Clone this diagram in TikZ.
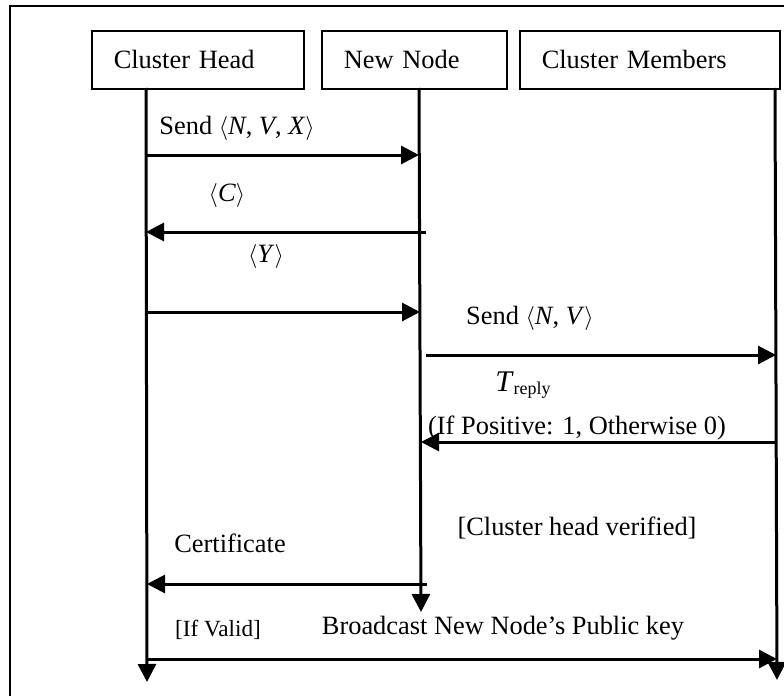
\documentclass[tikz,border=0pt]{standalone}
\usepackage{fontspec}
\setmainfont{Liberation Serif}
\usetikzlibrary{arrows.meta}

\tikzset{
  actor/.style={draw, line width=0.8pt, minimum height=29pt, text width=#1,
    inner xsep=11pt, align=left, anchor=north west,
    font=\fontsize{13.2}{15}\selectfont},
  life/.style={line width=1.5pt, -{Triangle[length=9pt,width=9pt]}},
  msg/.style={line width=1.5pt, -{Triangle[length=9pt,width=9pt]}},
  lbl/.style={inner sep=0pt, font=\fontsize{13.2}{15}\selectfont},
  small/.style={inner sep=0pt, font=\fontsize{11.6}{13}\selectfont}
}

\begin{document}
\begin{tikzpicture}[x=0.5pt, y=-0.5pt]
        \useasboundingbox (0,0) rectangle (784,696);
        % frame (cut off at the right and bottom)
        \draw[line width=1pt] (9.5,696) -- (9.5,6) -- (784,6);

        % actors
        \node[actor=84pt] (ch) at (91,30) {Cluster Head};
        \node[actor=70.5pt] (nn) at (321,30) {New Node};
        \node[actor=108pt] (cm) at (519,30) {Cluster Members};

        % lifelines
        \coordinate (chTop) at (146,88);
        \coordinate (chEnd) at (147,682);
        \coordinate (nnTop) at (419,88);
        \coordinate (nnEnd) at (421,612);
        \coordinate (cmTop) at (775,88);
        \coordinate (cmEnd) at (777,680);
        \draw[life] (chTop) -- (chEnd);
        \draw[life] (nnTop) -- (nnEnd);
        \draw[life] (cmTop) -- (cmEnd);

        % message ends
        \coordinate (ch1) at (146,155);
        \coordinate (nn1) at (419,155);
        \coordinate (nn2) at (426,232);
        \coordinate (ch2) at (146,232);
        \coordinate (ch3) at (146,312);
        \coordinate (nn3) at (420,312);
        \coordinate (nn4) at (426,355);
        \coordinate (cm4) at (776,355);
        \coordinate (cm5) at (776,442);
        \coordinate (nn5) at (421,442);
        \coordinate (nn6) at (427,584);
        \coordinate (ch6) at (147,584);
        \coordinate (ch7) at (148,659);
        \coordinate (cm7) at (777,659);

        \draw[msg] (ch1) -- (nn1);
        \node[lbl] (l1) at (237,128) {Send $\langle$\textit{N}, \textit{V}, \textit{X}$\rangle$};

        \draw[msg] (nn2) -- (ch2);
        \node[lbl] (l2) at (227,195) {$\langle$\textit{C}$\rangle$};

        \draw[msg] (ch3) -- (nn3);
        \node[lbl] (l3) at (266,257) {$\langle$\textit{Y}$\rangle$};

        \draw[msg] (nn4) -- (cm4);
        \node[lbl] (l4) at (530,318) {Send $\langle$\textit{N}, \textit{V}$\rangle$};

        \draw[msg] (cm5) -- (nn5);
        \node[lbl] (l5) at (523,385) {{\fontsize{15}{15}\selectfont\textit{T}}{\fontsize{9}{9}\selectfont\raisebox{-0.4ex}{reply}}};
        \node[lbl] (l6) at (577,428) {(If Positive: 1, Otherwise 0)};

        \node[lbl] (l7) at (577,528) {[Cluster head verified]};

        \draw[msg] (nn6) -- (ch6);
        \node[lbl] (l8) at (230,543) {Certificate};

        \draw[msg] (ch7) -- (cm7);
        \node[small] (l9) at (218,630) {[If Valid]};
        \node[lbl] (l10) at (503,628) {Broadcast New Node's Public key};
\end{tikzpicture}
\end{document}
